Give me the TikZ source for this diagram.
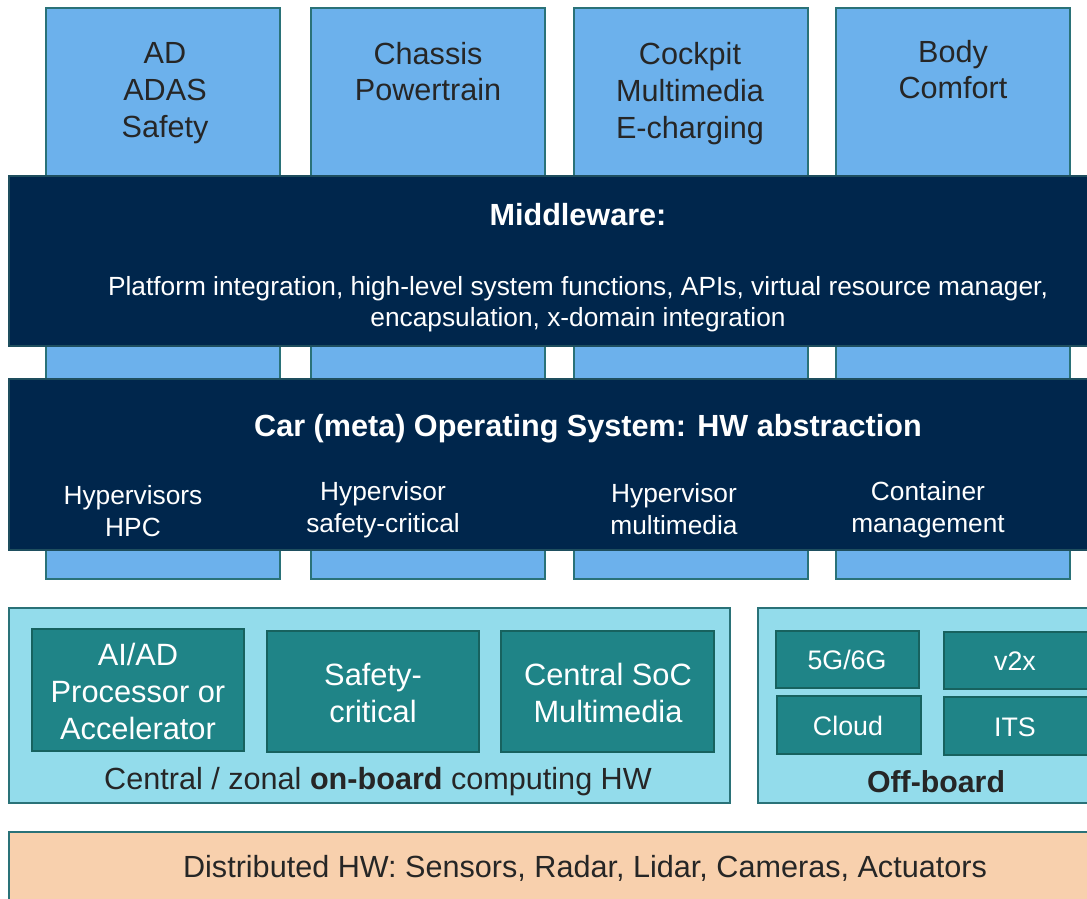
\documentclass[tikz,border=0pt]{standalone}
\usepackage{fontspec}
\setmainfont{Liberation Sans}
\definecolor{appblue}{HTML}{6CB1EC}
\definecolor{tealborder}{HTML}{2A7278}
\definecolor{navy}{HTML}{00264C}
\definecolor{navyborder}{HTML}{1E4E5E}
\definecolor{lightcyan}{HTML}{93DCEB}
\definecolor{tealbox}{HTML}{1F8487}
\definecolor{tealboxborder}{HTML}{17625F}
\definecolor{peach}{HTML}{F8D0AD}
\definecolor{txt}{HTML}{262626}
\tikzset{
  appbox/.style={fill=appblue, draw=tealborder, line width=1.6pt},
  band/.style={fill=navy, draw=navyborder, line width=1.6pt},
  hwbox/.style={fill=lightcyan, draw=tealborder, line width=1.6pt},
  chipbox/.style={fill=tealbox, draw=tealboxborder, line width=1.6pt},
  distbox/.style={fill=peach, draw=tealborder, line width=1.6pt},
  apptext/.style={text=txt, align=center, anchor=north, inner sep=0pt, font=\fontsize{30.6}{37}\selectfont},
  bandtitle/.style={text=white, align=center, inner sep=0pt, font=\fontsize{30.6}{35}\bfseries\selectfont},
  bandtext/.style={text=white, align=center, inner sep=0pt, font=\fontsize{26.3}{31}\selectfont},
  hvtext/.style={text=white, align=center, inner sep=0pt, font=\fontsize{26.3}{32}\selectfont},
  chiptext/.style={text=white, align=center, inner sep=0pt, font=\fontsize{30.8}{37}\selectfont},
  smallchip/.style={text=white, align=center, inner sep=0pt, font=\fontsize{26.8}{30}\selectfont},
  hwlabel/.style={text=txt, align=center, inner sep=0pt, font=\fontsize{30.6}{34}\selectfont},
}
\begin{document}
\begin{tikzpicture}[x=1pt,y=-1pt]
\useasboundingbox (0,0) rectangle (1087,898);
\clip (0,0) rectangle (1087,898);
% application columns
\draw[appbox] (46,8) rectangle (280,579);
\draw[appbox] (311,8) rectangle (545,579);
\draw[appbox] (574,8) rectangle (808,579);
\draw[appbox] (836,8) rectangle (1070,579);
\node[apptext] (ad) at (165,42) {AD\\ADAS\\Safety};
\node[apptext, font=\fontsize{30.6}{36}\selectfont] (chassis) at (428,42) {Chassis\\Powertrain};
\node[apptext] (cockpit) at (690,42) {Cockpit\\Multimedia\\E-charging};
\node[apptext, font=\fontsize{30.6}{36}\selectfont] (body) at (953,40) {Body\\Comfort};
% middleware band
\draw[band] (9,176) rectangle (1100,346);
\node[bandtitle] (mwtitle) at (578,215) {Middleware:};
\node[bandtext] (mwtext) at (578,304) {Platform integration, high-level system functions, APIs, virtual resource manager,\\encapsulation, x-domain integration};
% OS band
\draw[band] (9,379) rectangle (1100,550);
\node[bandtitle] (ostitle) at (588,429) {Car (meta) Operating System: HW abstraction};
\node[hvtext] (hv1) at (133,511) {Hypervisors\\HPC};
\node[hvtext] (hv2) at (383,510) {Hypervisor\\safety-critical};
\node[hvtext] (hv3) at (674,509) {Hypervisor\\multimedia};
\node[hvtext] (hv4) at (928,510) {Container\\management};
% on-board HW
\draw[hwbox] (9,608) rectangle (730,803);
\draw[chipbox] (32,629) rectangle (244,751);
\draw[chipbox] (267,631) rectangle (479,752);
\draw[chipbox] (501,631) rectangle (714,752);
\node[chiptext] (aiad) at (138,691) {AI/AD\\Processor or\\Accelerator};
\node[chiptext] (safety) at (373,693) {Safety-\\critical};
\node[chiptext] (soc) at (608,693) {Central SoC\\Multimedia};
\node[hwlabel] (onboard) at (378,782) {Central / zonal \textbf{on-board} computing HW};
% off-board
\draw[hwbox] (758,608) rectangle (1100,803);
\draw[chipbox] (776,631) rectangle (919,688);
\draw[chipbox] (944,632) rectangle (1100,689);
\draw[chipbox] (777,696) rectangle (921,754);
\draw[chipbox] (944,697) rectangle (1100,755);
\node[smallchip] (g5) at (847,660) {5G/6G};
\node[smallchip] (v2x) at (1015,661) {v2x};
\node[smallchip] (cloud) at (848,726) {Cloud};
\node[smallchip] (its) at (1015,727) {ITS};
\node[hwlabel, font=\fontsize{30.3}{34}\bfseries\selectfont] (offboard) at (936,782) {Off-board};
% distributed HW
\draw[distbox] (9,832) rectangle (1100,910);
\node[hwlabel] (dist) at (585,868) {Distributed HW: Sensors, Radar, Lidar, Cameras, Actuators};
\end{tikzpicture}
\end{document}
